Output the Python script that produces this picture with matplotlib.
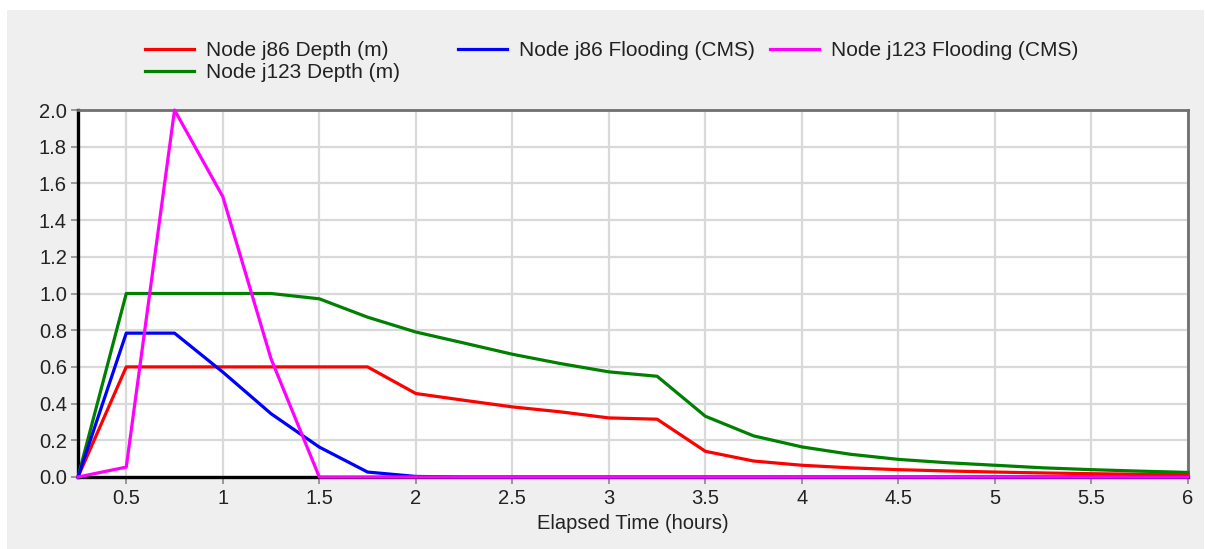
import matplotlib
matplotlib.use("Agg")
import matplotlib.pyplot as plt
from matplotlib.patches import Rectangle
from matplotlib.ticker import FormatStrFormatter

plt.rcParams['font.family'] = ['Liberation Sans', 'DejaVu Sans']

# elapsed time (hours), 15 minute reporting step
times = [0.25, 0.5, 0.75, 1.0, 1.25, 1.5, 1.75, 2.0, 2.25, 2.5, 2.75, 3.0,
         3.25, 3.5, 3.75, 4.0, 4.25, 4.5, 4.75, 5.0, 5.25, 5.5, 5.75, 6.0]

j86_depth = [0.0, 0.6, 0.6, 0.6, 0.6, 0.6, 0.6, 0.455, 0.418, 0.382, 0.355, 0.322,
             0.315, 0.14, 0.087, 0.064, 0.05, 0.04, 0.033, 0.027, 0.022, 0.018, 0.015, 0.012]
j123_depth = [0.0, 1.0, 1.0, 1.0, 1.0, 0.971, 0.871, 0.79, 0.73, 0.669, 0.618, 0.573,
              0.549, 0.331, 0.224, 0.164, 0.124, 0.096, 0.078, 0.064, 0.05, 0.04, 0.032, 0.025]
j86_flooding = [0.0, 0.784, 0.784, 0.572, 0.345, 0.163, 0.027, 0.003, 0.0, 0.0, 0.0, 0.0,
                0.0, 0.0, 0.0, 0.0, 0.0, 0.0, 0.0, 0.0, 0.0, 0.0, 0.0, 0.0]
j123_flooding = [0.0, 0.054, 2.0, 1.528, 0.644, 0.0, 0.0, 0.0, 0.0, 0.0, 0.0, 0.0,
                 0.0, 0.0, 0.0, 0.0, 0.0, 0.0, 0.0, 0.0, 0.0, 0.0, 0.0, 0.0]

series = [
    ("Node j86 Depth (m)", j86_depth, "#ff0000"),
    ("Node j123 Depth (m)", j123_depth, "#008000"),
    ("Node j86 Flooding (CMS)", j86_flooding, "#0000ff"),
    ("Node j123 Flooding (CMS)", j123_flooding, "#ff00ff"),
]

W, H = 1205, 549
fig = plt.figure(figsize=(W / 100, H / 100), dpi=100, facecolor="white")
fig.patches.append(Rectangle((7 / W, 0), (1204 - 7) / W, (H - 10) / H,
                             transform=fig.transFigure, facecolor="#efefef",
                             edgecolor="none", zorder=-10))

ax = fig.add_axes([78 / W, 1 - 477 / H, (1188 - 78) / W, (477 - 110) / H])
ax.set_facecolor("white")

lines = []
for label, vals, color in series:
    ln, = ax.plot(times, vals, color=color, lw=2.3, label=label,
                  clip_on=False, zorder=3)
    lines.append(ln)

ax.set_xlim(0.25, 6)
ax.set_ylim(0, 2.0)
ax.set_xticks([0.5, 1, 1.5, 2, 2.5, 3, 3.5, 4, 4.5, 5, 5.5, 6])
ax.set_xticklabels(["0.5", "1", "1.5", "2", "2.5", "3", "3.5", "4", "4.5", "5", "5.5", "6"])
ax.set_yticks([0.0, 0.2, 0.4, 0.6, 0.8, 1.0, 1.2, 1.4, 1.6, 1.8, 2.0])
ax.yaxis.set_major_formatter(FormatStrFormatter("%.1f"))
ax.tick_params(labelsize=14.5, labelcolor="#222222", color="#888888",
               length=5, width=1.2, pad=3)
ax.tick_params(axis="x", pad=4)
ax.grid(True, color="#d9d9d9", lw=1.6)
ax.set_axisbelow(True)

for side in ("left", "bottom"):
    ax.spines[side].set_color("black")
    ax.spines[side].set_linewidth(2.4)
for side in ("top", "right"):
    ax.spines[side].set_color("#707070")
    ax.spines[side].set_linewidth(2.0)

ax.set_xlabel("Elapsed Time (hours)", fontsize=14.5, color="#222222", labelpad=4)

# legend laid out in three fixed-width columns
columns = [(145, [lines[0], lines[1]]), (458, [lines[2]]), (770, [lines[3]])]
for x0, handles in columns:
    fig.legend(handles=handles, labels=[h.get_label() for h in handles],
               loc="upper left", bbox_to_anchor=(x0 / W, 1 - 41 / H),
               frameon=False, fontsize=15, handlelength=2.35,
               handletextpad=0.6, labelspacing=0.15, borderpad=0,
               borderaxespad=0, labelcolor="#222222")

fig.savefig("out.png", dpi=100, facecolor=fig.get_facecolor())
